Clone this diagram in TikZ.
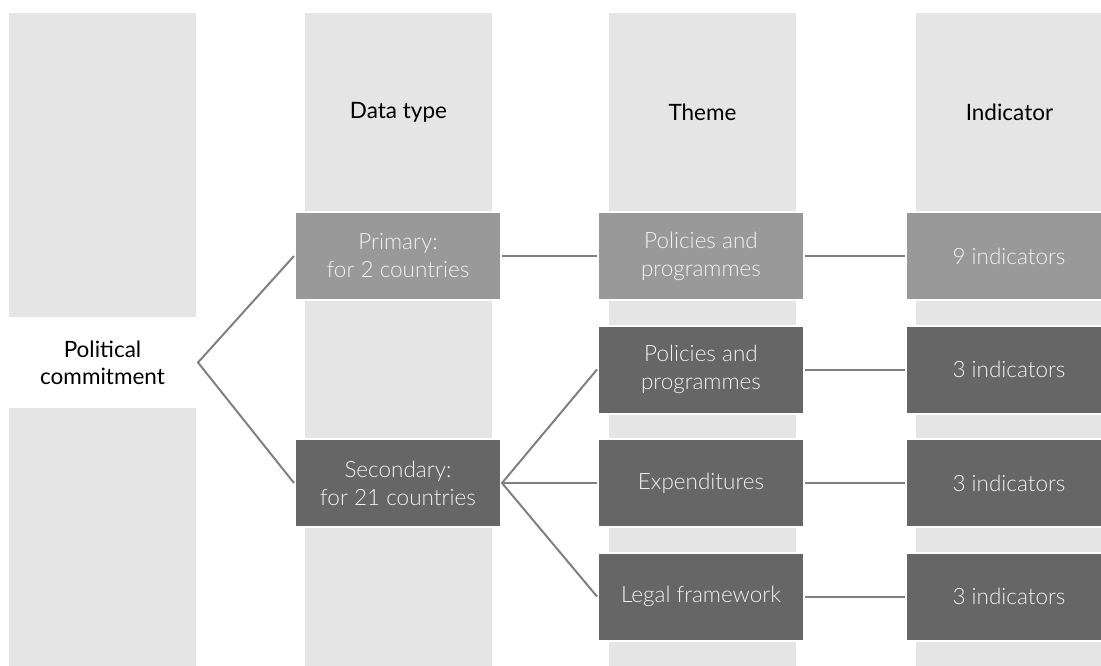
\documentclass[tikz,border=0pt]{standalone}
\usepackage{fontspec}
\setmainfont{Lato}
\newfontfamily\lightfont{Lato Light}
\usetikzlibrary{positioning}
\definecolor{colbg}{HTML}{E5E5E5}
\definecolor{boxmid}{HTML}{999999}
\definecolor{boxdark}{HTML}{666666}
\definecolor{linkgray}{HTML}{808080}
\definecolor{boxtext}{HTML}{F2F2F2}
\tikzstyle{column} = [rectangle, fill=colbg, minimum width=187pt, minimum height=660pt, inner sep=0pt, anchor=north]
\tikzstyle{header} = [text=black, font=\fontsize{22.5}{28}\selectfont]
\tikzstyle{primary} = [rectangle, minimum width=206pt, minimum height=88pt, align=center, draw=white, line width=2pt, fill=boxmid, text=boxtext, font=\lightfont\fontsize{22.5}{28}\selectfont]
\tikzstyle{secondary} = [primary, fill=boxdark]
\tikzstyle{start} = [rectangle, minimum width=189pt, minimum height=89pt, align=center, draw=white, line width=2pt, fill=white, text=black, font=\fontsize{22.5}{27}\selectfont]
\tikzstyle{link} = [draw=linkgray, line width=2pt]

\begin{document}
\begin{tikzpicture}[x=1pt,y=-1pt]
\useasboundingbox (0,0) rectangle (1101,666);
\clip (0,0) rectangle (1101,666);
% background columns
\node (colpol) [column] at (102.5,13) {};
\node (coltype) [column] at (398.5,13) {};
\node (coltheme) [column] at (702.5,13) {};
\node (colind) [column] at (1009.5,13) {};

\node (htype) [header] at (398.5,112) {Data type};
\node (htheme) [header] at (702.5,112) {Theme};
\node (hind) [header] at (1009.5,112) {Indicator};

\node (pol) [start] at (102.5,362.5) {Political\\commitment};
\node (prim) [primary] at (398,256) {Primary:\\for 2 countries};
\node (sec) [secondary] at (398,483) {Secondary:\\for 21 countries};

\node (thpp) [primary] at (701,256) {Policies and\\programmes};
\node (thpptwo) [secondary] at (701,369.5) {Policies and\\programmes};
\node (thexp) [secondary] at (701,483) {Expenditures};
\node (thlegal) [secondary] at (701,596.5) {Legal framework};

\node (indnine) [primary] at (1009,256) {9 indicators};
\node (indpp) [secondary] at (1009,369.5) {3 indicators};
\node (indexp) [secondary] at (1009,483) {3 indicators};
\node (indlegal) [secondary] at (1009,596.5) {3 indicators};

\draw [link] (prim.west) -- (pol.east) -- (sec.west);
\draw [link] (prim) -- (thpp);
\draw [link] (thpp) -- (indnine);
\draw [link] (thpptwo.west) -- (sec.east) -- (thlegal.west);
\draw [link] (sec.east) -- (thexp.west);
\draw [link] (thpptwo) -- (indpp);
\draw [link] (thexp) -- (indexp);
\draw [link] (thlegal) -- (indlegal);
\end{tikzpicture}
\end{document}
